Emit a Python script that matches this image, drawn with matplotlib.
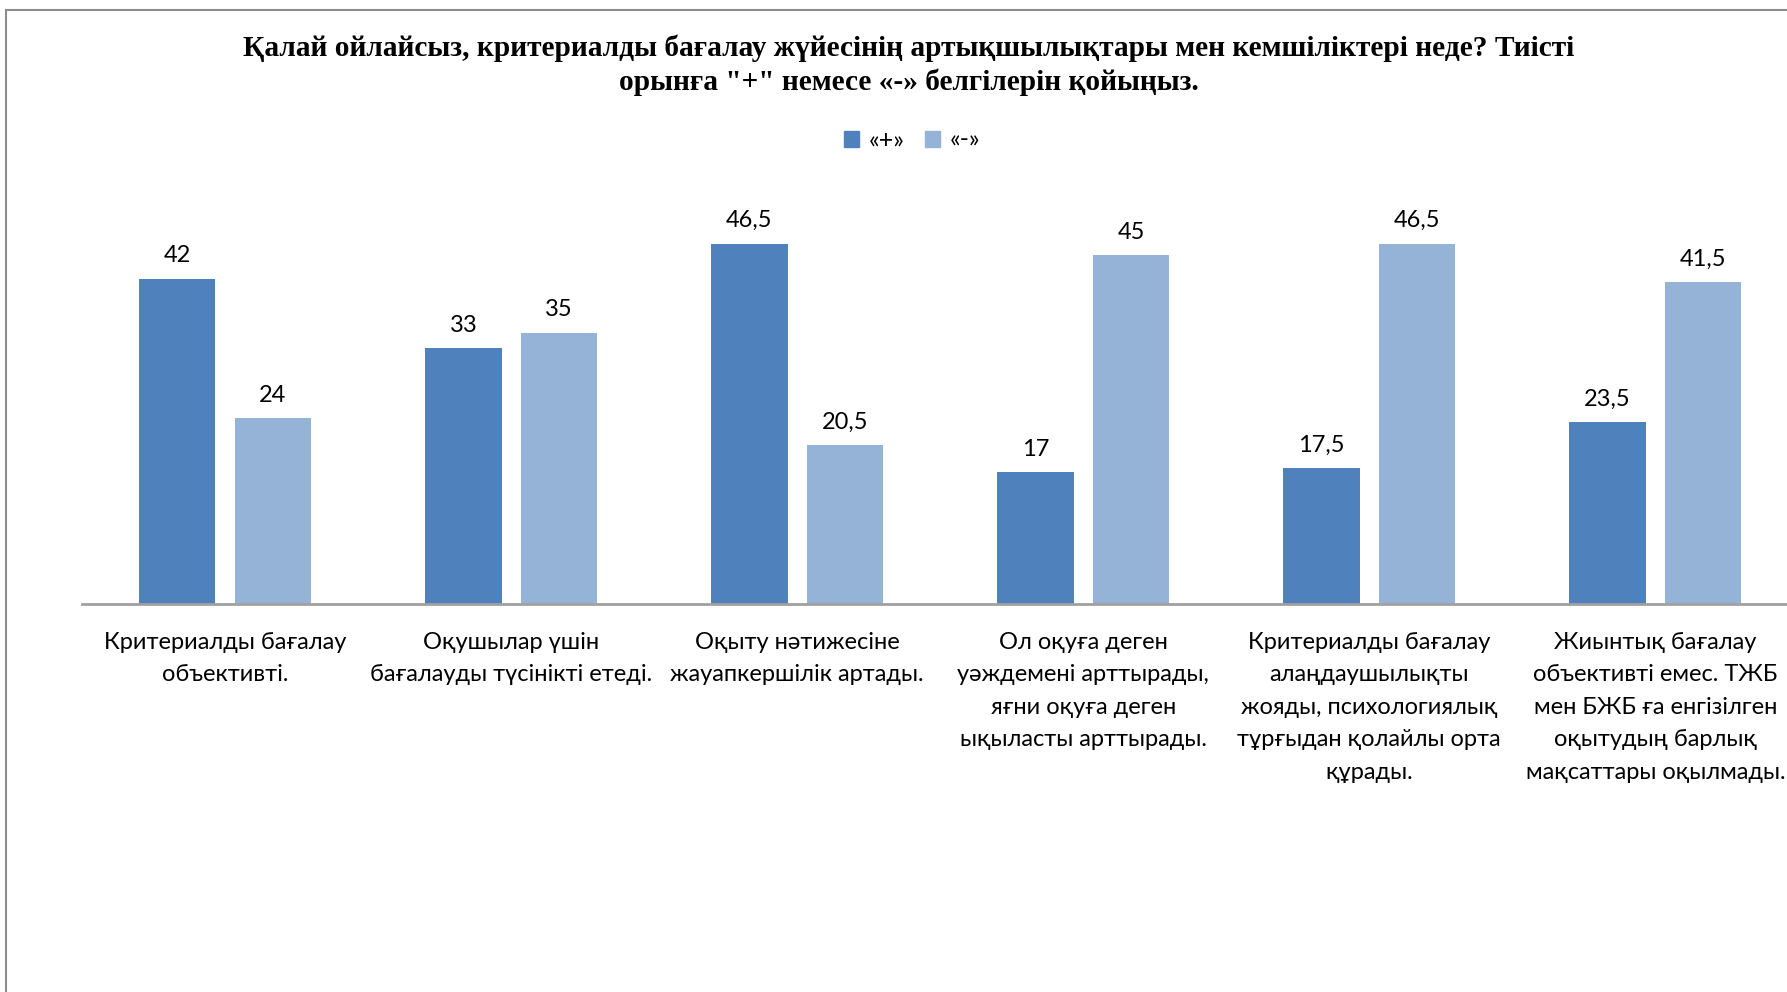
import matplotlib
matplotlib.use("Agg")
import matplotlib.pyplot as plt
from matplotlib.patches import Rectangle, Patch
import numpy as np

categories = [
    "Критериалды бағалау\nобъективті.",
    "Оқушылар үшін\nбағалауды түсінікті етеді.",
    "Оқыту нәтижесіне\nжауапкершілік артады.",
    "Ол оқуға деген\nуәждемені арттырады,\nяғни оқуға деген\nықыласты арттырады.",
    "Критериалды бағалау\nалаңдаушылықты\nжояды, психологиялық\nтұрғыдан қолайлы орта\nқұрады.",
    "Жиынтық бағалау\nобъективті емес. ТЖБ\nмен БЖБ ға енгізілген\nоқытудың барлық\nмақсаттары оқылмады.",
]
plus_vals = [42, 33, 46.5, 17, 17.5, 23.5]
minus_vals = [24, 35, 20.5, 45, 46.5, 41.5]
series_names = ["«+»", "«-»"]
title = ("Қалай ойлайсыз, критериалды бағалау жүйесінің артықшылықтары мен кемшіліктері неде? Тиісті\n"
         "орынға \"+\" немесе «-» белгілерін қойыңыз.")

c_plus = "#4F81BD"
c_minus = "#95B3D7"
sans = ["Lato", "Noto Sans", "DejaVu Sans"]
serif = ["Liberation Serif", "DejaVu Serif"]

W, H = 1787, 992
fig = plt.figure(figsize=(W / 100, H / 100), dpi=100)
fig.patch.set_facecolor("white")

# outer frame (left and top visible, right/bottom cut off)
fig.add_artist(Rectangle((6 / W, -0.1), 1.2, 1 - 10 / H + 0.1, transform=fig.transFigure,
                         fill=False, edgecolor="#8c8c8c", linewidth=1.5))

left = 82 / W
bottom = (H - 604) / H
height = (604 - 216.5) / H
width = 6 * 286.06 / W
ax = fig.add_axes([left, bottom, width, height])

x = np.arange(len(categories))
bw = 0.267
off = 0.167
b1 = ax.bar(x - off, plus_vals, bw, color=c_plus, label=series_names[0])
b2 = ax.bar(x + off, minus_vals, bw, color=c_minus, label=series_names[1])

def fmt(v):
    return ("%g" % v).replace(".", ",")

for bars, vals in ((b1, plus_vals), (b2, minus_vals)):
    for r, v in zip(bars, vals):
        ax.annotate(fmt(v), (r.get_x() + r.get_width() / 2, v), xytext=(0, 9),
                    textcoords="offset points", ha="center", va="bottom",
                    fontsize=17, family=sans, color="black")

ax.set_xlim(-0.5, len(categories) - 0.5)
ax.set_ylim(0, 50)
ax.set_yticks([])
for s in ("top", "right", "left"):
    ax.spines[s].set_visible(False)
ax.spines["bottom"].set_color("#a0a0a0")
ax.spines["bottom"].set_linewidth(2)
ax.set_xticks(x)
ax.set_xticklabels(categories, fontsize=17, family=sans, linespacing=1.68)
ax.tick_params(axis="x", length=0, pad=20)

lines = title.split("\n")
fig.text(909 / W, 1 - 48 / H, lines[0], ha="center", va="center",
         fontsize=21.2, fontweight="bold", family=serif)
fig.text(909 / W, 1 - 82 / H, lines[1], ha="center", va="center",
         fontsize=21.2, fontweight="bold", family=serif)

handles = [Patch(color=c_plus), Patch(color=c_minus)]
fig.legend(handles, series_names, loc="center", bbox_to_anchor=(912 / W, 1 - 140 / H),
           ncol=2, frameon=False, prop={"family": sans, "size": 18},
           handlelength=0.6, handleheight=0.6, handletextpad=0.4, columnspacing=0.8)

fig.savefig("out.png", dpi=100)
